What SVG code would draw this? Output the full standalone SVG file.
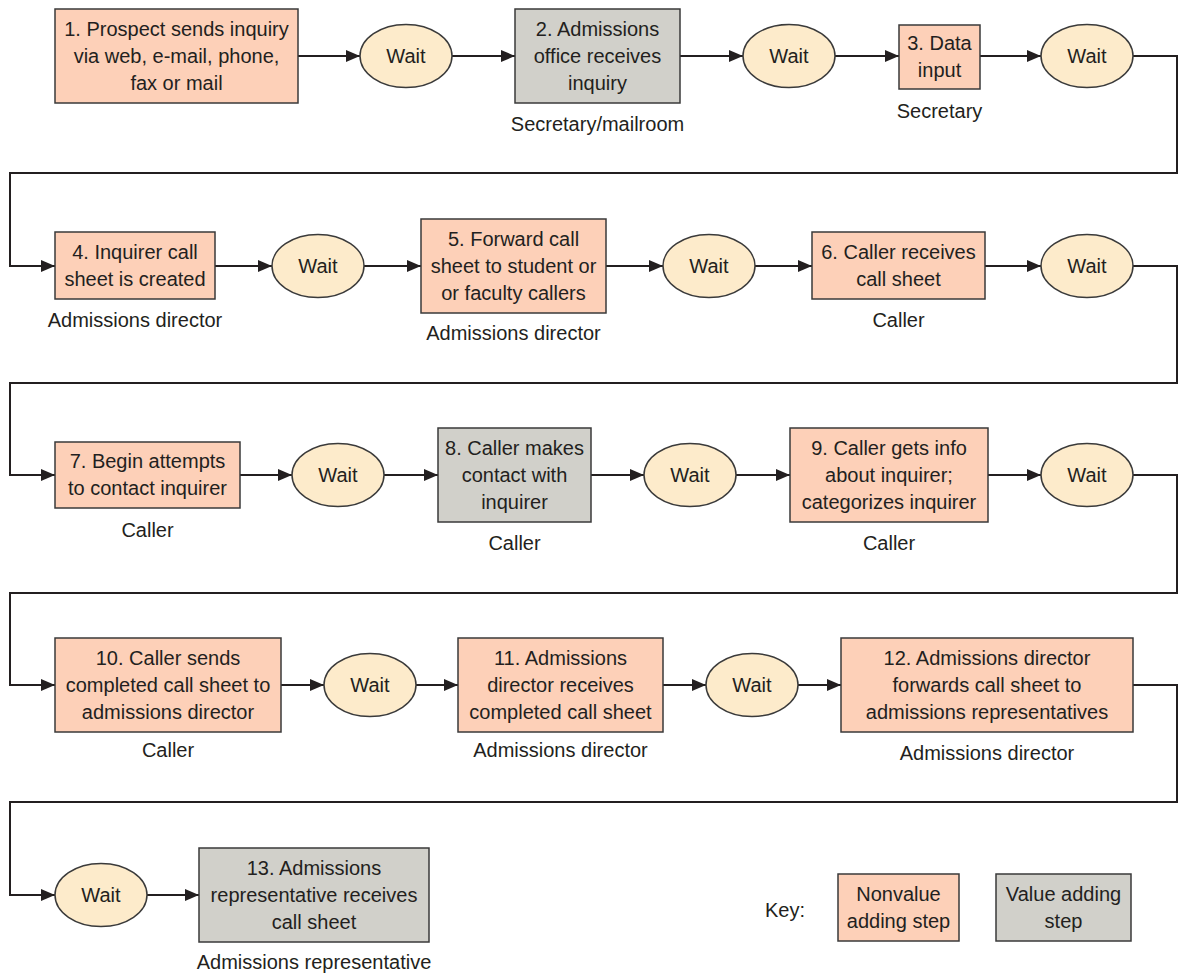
<svg xmlns="http://www.w3.org/2000/svg" width="1178" height="975" viewBox="0 0 1178 975">
<style>
text{font-family:"Liberation Sans",Arial,sans-serif;font-size:20px;fill:#231f20;text-anchor:middle}
.nv{fill:#fdd0b8;stroke:#3a3a3a;stroke-width:1.5}
.va{fill:#d1d0ca;stroke:#3a3a3a;stroke-width:1.5}
.w{fill:#fdebcb;stroke:#3a3a3a;stroke-width:1.5}
.c{fill:none;stroke:#231f20;stroke-width:2}
</style>
<defs>
<marker id="ah" viewBox="0 0 14 12" refX="14" refY="6" markerWidth="14" markerHeight="12" markerUnits="userSpaceOnUse" orient="auto">
<path d="M0,0 L14,6 L0,12 Z" fill="#231f20"/>
</marker>
</defs>
<rect width="1178" height="975" fill="#fff"/>
<g id="connectors">
<path class="c" d="M298,56 H360" marker-end="url(#ah)"/>
<path class="c" d="M452,56 H515" marker-end="url(#ah)"/>
<path class="c" d="M680,56 H743" marker-end="url(#ah)"/>
<path class="c" d="M835,56 H899" marker-end="url(#ah)"/>
<path class="c" d="M980,56 H1041" marker-end="url(#ah)"/>
<path class="c" d="M1133,56 H1177 V173 H10 V266 H55" marker-end="url(#ah)"/>
<path class="c" d="M215,266 H272" marker-end="url(#ah)"/>
<path class="c" d="M364,266 H421" marker-end="url(#ah)"/>
<path class="c" d="M606,266 H663" marker-end="url(#ah)"/>
<path class="c" d="M755,266 H812" marker-end="url(#ah)"/>
<path class="c" d="M985,266 H1041" marker-end="url(#ah)"/>
<path class="c" d="M1133,266 H1177 V383 H10 V475 H55" marker-end="url(#ah)"/>
<path class="c" d="M240,475 H292" marker-end="url(#ah)"/>
<path class="c" d="M384,475 H438" marker-end="url(#ah)"/>
<path class="c" d="M591,475 H644" marker-end="url(#ah)"/>
<path class="c" d="M736,475 H790" marker-end="url(#ah)"/>
<path class="c" d="M988,475 H1041" marker-end="url(#ah)"/>
<path class="c" d="M1133,475 H1177 V593 H10 V685 H55" marker-end="url(#ah)"/>
<path class="c" d="M281,685 H324" marker-end="url(#ah)"/>
<path class="c" d="M416,685 H458" marker-end="url(#ah)"/>
<path class="c" d="M663,685 H706" marker-end="url(#ah)"/>
<path class="c" d="M798,685 H841" marker-end="url(#ah)"/>
<path class="c" d="M1133,685 H1177 V802 H10 V895 H55" marker-end="url(#ah)"/>
<path class="c" d="M147,895 H199" marker-end="url(#ah)"/>
</g>
<g id="n1"><rect class="nv" x="55" y="9" width="243" height="94"/><text x="176.5" y="36">1. Prospect sends inquiry</text><text x="176.5" y="63">via web, e-mail, phone,</text><text x="176.5" y="90">fax or mail</text></g>
<g id="w1"><ellipse class="w" cx="406" cy="56" rx="46" ry="31.5"/><text x="406" y="63">Wait</text></g>
<g id="n2"><rect class="va" x="515" y="9" width="165" height="94"/><text x="597.5" y="36">2. Admissions</text><text x="597.5" y="63">office receives</text><text x="597.5" y="90">inquiry</text><text x="597.5" y="131">Secretary/mailroom</text></g>
<g id="w2"><ellipse class="w" cx="789" cy="56" rx="46" ry="31.5"/><text x="789" y="63">Wait</text></g>
<g id="n3"><rect class="nv" x="899" y="25" width="81" height="64"/><text x="939.5" y="50">3. Data</text><text x="939.5" y="77">input</text><text x="939.5" y="118">Secretary</text></g>
<g id="w3"><ellipse class="w" cx="1087" cy="56" rx="46" ry="31.5"/><text x="1087" y="63">Wait</text></g>
<g id="n4"><rect class="nv" x="55" y="232" width="160" height="67"/><text x="135" y="259">4. Inquirer call</text><text x="135" y="286">sheet is created</text><text x="135" y="327">Admissions director</text></g>
<g id="w4"><ellipse class="w" cx="318" cy="266" rx="46" ry="31.5"/><text x="318" y="273">Wait</text></g>
<g id="n5"><rect class="nv" x="421" y="219" width="185" height="94"/><text x="513.5" y="246">5. Forward call</text><text x="513.5" y="273">sheet to student or</text><text x="513.5" y="300">or faculty callers</text><text x="513.5" y="340">Admissions director</text></g>
<g id="w5"><ellipse class="w" cx="709" cy="266" rx="46" ry="31.5"/><text x="709" y="273">Wait</text></g>
<g id="n6"><rect class="nv" x="812" y="232" width="173" height="67"/><text x="898.5" y="259">6. Caller receives</text><text x="898.5" y="286">call sheet</text><text x="898.5" y="327">Caller</text></g>
<g id="w6"><ellipse class="w" cx="1087" cy="266" rx="46" ry="31.5"/><text x="1087" y="273">Wait</text></g>
<g id="n7"><rect class="nv" x="55" y="442" width="185" height="66"/><text x="147.5" y="468">7. Begin attempts</text><text x="147.5" y="495">to contact inquirer</text><text x="147.5" y="537">Caller</text></g>
<g id="w7"><ellipse class="w" cx="338" cy="475" rx="46" ry="31.5"/><text x="338" y="482">Wait</text></g>
<g id="n8"><rect class="va" x="438" y="428" width="153" height="94"/><text x="514.5" y="455">8. Caller makes</text><text x="514.5" y="482">contact with</text><text x="514.5" y="509">inquirer</text><text x="514.5" y="550">Caller</text></g>
<g id="w8"><ellipse class="w" cx="690" cy="475" rx="46" ry="31.5"/><text x="690" y="482">Wait</text></g>
<g id="n9"><rect class="nv" x="790" y="428" width="198" height="94"/><text x="889" y="455">9. Caller gets info</text><text x="889" y="482">about inquirer;</text><text x="889" y="509">categorizes inquirer</text><text x="889" y="550">Caller</text></g>
<g id="w9"><ellipse class="w" cx="1087" cy="475" rx="46" ry="31.5"/><text x="1087" y="482">Wait</text></g>
<g id="n10"><rect class="nv" x="55" y="638" width="226" height="94"/><text x="168" y="665">10. Caller sends</text><text x="168" y="692">completed call sheet to</text><text x="168" y="719">admissions director</text><text x="168" y="757">Caller</text></g>
<g id="w10"><ellipse class="w" cx="370" cy="685" rx="46" ry="31.5"/><text x="370" y="692">Wait</text></g>
<g id="n11"><rect class="nv" x="458" y="638" width="205" height="94"/><text x="560.5" y="665">11. Admissions</text><text x="560.5" y="692">director receives</text><text x="560.5" y="719">completed call sheet</text><text x="560.5" y="757">Admissions director</text></g>
<g id="w11"><ellipse class="w" cx="752" cy="685" rx="46" ry="31.5"/><text x="752" y="692">Wait</text></g>
<g id="n12"><rect class="nv" x="841" y="638" width="292" height="94"/><text x="987" y="665">12. Admissions director</text><text x="987" y="692">forwards call sheet to</text><text x="987" y="719">admissions representatives</text><text x="987" y="760">Admissions director</text></g>
<g id="w12"><ellipse class="w" cx="101" cy="895" rx="46" ry="31.5"/><text x="101" y="902">Wait</text></g>
<g id="n13"><rect class="va" x="199" y="848" width="230" height="94"/><text x="314" y="875">13. Admissions</text><text x="314" y="902">representative receives</text><text x="314" y="929">call sheet</text><text x="314" y="969">Admissions representative</text></g>
<g id="key"><text x="785" y="917">Key:</text><rect class="nv" x="838" y="874" width="121" height="67"/><text x="898.5" y="901">Nonvalue</text><text x="898.5" y="928">adding step</text><rect class="va" x="996" y="874" width="135" height="67"/><text x="1063.5" y="901">Value adding</text><text x="1063.5" y="928">step</text></g>
</svg>
